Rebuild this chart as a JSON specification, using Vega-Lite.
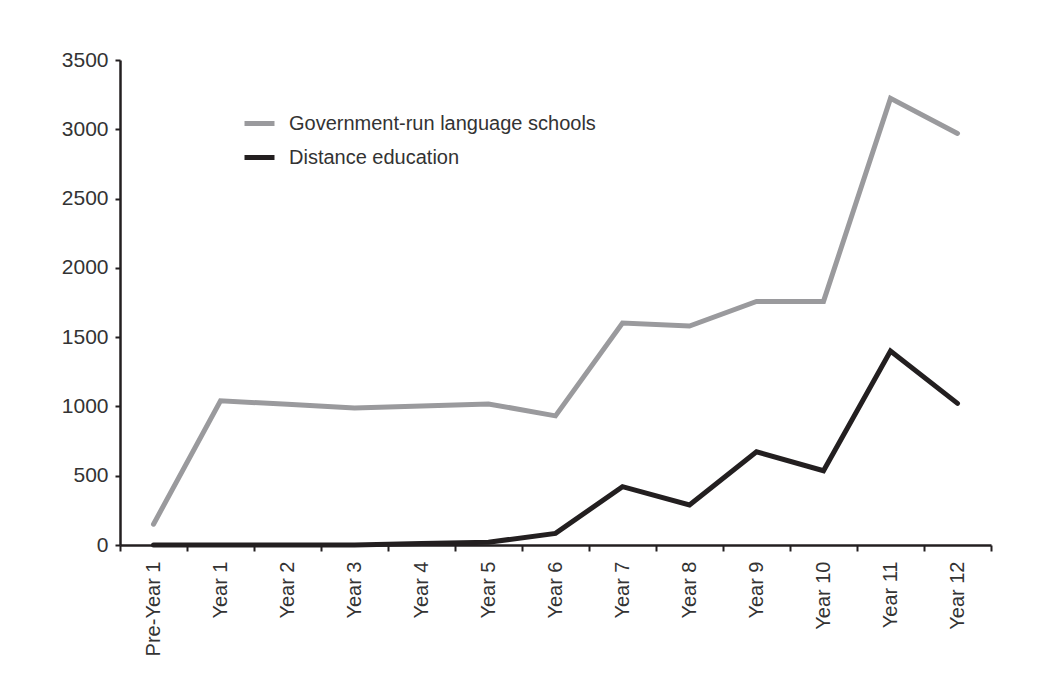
{
  "$schema": "https://vega.github.io/schema/vega-lite/v6.json",
  "width": 871,
  "height": 485,
  "autosize": "none",
  "padding": {"left": 120, "top": 60, "right": 63, "bottom": 141},
  "background": "white",
  "config": {
    "view": {"stroke": null},
    "font": "Liberation Sans"
  },
  "data": {
    "values": [
      {"year": "Pre-Year 1", "series": "Government-run language schools", "value": 150},
      {"year": "Year 1", "series": "Government-run language schools", "value": 1041},
      {"year": "Year 2", "series": "Government-run language schools", "value": 1015},
      {"year": "Year 3", "series": "Government-run language schools", "value": 988},
      {"year": "Year 4", "series": "Government-run language schools", "value": 1003},
      {"year": "Year 5", "series": "Government-run language schools", "value": 1018},
      {"year": "Year 6", "series": "Government-run language schools", "value": 932},
      {"year": "Year 7", "series": "Government-run language schools", "value": 1602},
      {"year": "Year 8", "series": "Government-run language schools", "value": 1580},
      {"year": "Year 9", "series": "Government-run language schools", "value": 1758},
      {"year": "Year 10", "series": "Government-run language schools", "value": 1758},
      {"year": "Year 11", "series": "Government-run language schools", "value": 3223},
      {"year": "Year 12", "series": "Government-run language schools", "value": 2970},
      {"year": "Pre-Year 1", "series": "Distance education", "value": 0},
      {"year": "Year 1", "series": "Distance education", "value": 0},
      {"year": "Year 2", "series": "Distance education", "value": 0},
      {"year": "Year 3", "series": "Distance education", "value": 0},
      {"year": "Year 4", "series": "Distance education", "value": 10},
      {"year": "Year 5", "series": "Distance education", "value": 20},
      {"year": "Year 6", "series": "Distance education", "value": 84},
      {"year": "Year 7", "series": "Distance education", "value": 421},
      {"year": "Year 8", "series": "Distance education", "value": 289},
      {"year": "Year 9", "series": "Distance education", "value": 673},
      {"year": "Year 10", "series": "Distance education", "value": 536},
      {"year": "Year 11", "series": "Distance education", "value": 1400},
      {"year": "Year 12", "series": "Distance education", "value": 1022}
    ]
  },
  "mark": {"type": "line", "strokeWidth": 5, "strokeCap": "round", "strokeJoin": "miter"},
  "encoding": {
    "x": {
      "field": "year",
      "type": "ordinal",
      "sort": null,
      "bandPosition": 0.5,
      "scale": {"type": "band", "paddingInner": 0, "paddingOuter": 0},
      "axis": {
        "title": null,
        "labelAngle": -90,
        "labelAlign": "right",
        "labelBaseline": "middle",
        "labelFontSize": 20,
        "labelColor": "#333333",
        "labelPadding": 10,
        "tickBand": "extent",
        "tickSize": 6,
        "tickWidth": 2,
        "tickColor": "#231f20",
        "domainColor": "#231f20",
        "domainWidth": 2.5,
        "grid": false
      }
    },
    "y": {
      "field": "value",
      "type": "quantitative",
      "scale": {"domain": [0, 3500], "nice": false},
      "axis": {
        "title": null,
        "values": [0, 500, 1000, 1500, 2000, 2500, 3000, 3500],
        "format": "d",
        "labelFontSize": 21,
        "labelColor": "#333333",
        "labelPadding": 7,
        "tickSize": 5,
        "tickWidth": 2,
        "tickColor": "#231f20",
        "domainColor": "#231f20",
        "domainWidth": 2.5,
        "grid": false
      }
    },
    "color": {
      "field": "series",
      "type": "nominal",
      "scale": {
        "domain": ["Government-run language schools", "Distance education"],
        "range": ["#9a9a9d", "#231f20"]
      },
      "legend": {
        "title": null,
        "orient": "none",
        "legendX": 122,
        "legendY": 46,
        "symbolType": "stroke",
        "symbolSize": 900,
        "symbolStrokeWidth": 5,
        "labelFontSize": 20,
        "labelColor": "#333333",
        "labelOffset": 12,
        "labelLimit": 0,
        "rowPadding": 6
      }
    }
  }
}
